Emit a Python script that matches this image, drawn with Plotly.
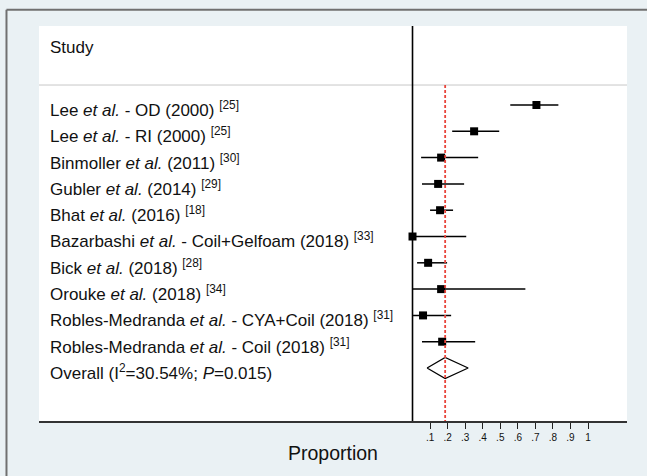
import plotly.graph_objects as go

# ---- data ----
studies = [
    "Lee <i>et al.</i> - OD (2000) <sup>[25]</sup>",
    "Lee <i>et al.</i> - RI (2000) <sup>[25]</sup>",
    "Binmoller <i>et al.</i> (2011) <sup>[30]</sup>",
    "Gubler <i>et al.</i> (2014) <sup>[29]</sup>",
    "Bhat <i>et al.</i> (2016) <sup>[18]</sup>",
    "Bazarbashi <i>et al.</i> - Coil+Gelfoam (2018) <sup>[33]</sup>",
    "Bick <i>et al.</i> (2018) <sup>[28]</sup>",
    "Orouke <i>et al.</i> (2018) <sup>[34]</sup>",
    "Robles-Medranda <i>et al.</i> - CYA+Coil (2018) <sup>[31]</sup>",
    "Robles-Medranda <i>et al.</i> - Coil (2018) <sup>[31]</sup>",
]
est = [0.706, 0.351, 0.163, 0.146, 0.157, 0.000, 0.089, 0.163, 0.060, 0.169]
lo = [0.557, 0.226, 0.049, 0.054, 0.100, 0.000, 0.026, 0.000, 0.003, 0.054]
hi = [0.831, 0.494, 0.374, 0.294, 0.231, 0.306, 0.197, 0.643, 0.220, 0.357]

overall_label = "Overall (I<sup>2</sup>=30.54%; <i>P</i>=0.015)"
overall_est = 0.186
overall_lo = 0.083
overall_hi = 0.317

tick_vals = [0.1, 0.2, 0.3, 0.4, 0.5, 0.6, 0.7, 0.8, 0.9, 1.0]
tick_text = [".1", ".2", ".3", ".4", ".5", ".6", ".7", ".8", ".9", "1"]

FONT = "Liberation Sans, Arial, sans-serif"
rows = list(range(len(studies)))
overall_row = len(studies)

fig = go.Figure()

# CI lines
cx, cy = [], []
for r, a, b in zip(rows, lo, hi):
    cx += [a, b, None]
    cy += [r, r, None]
fig.add_trace(go.Scatter(x=cx, y=cy, mode="lines",
                         line=dict(color="black", width=1.5),
                         hoverinfo="skip", showlegend=False))
# point estimates
fig.add_trace(go.Scatter(x=est, y=rows, mode="markers",
                         marker=dict(symbol="square", size=8, color="black"),
                         showlegend=False))
# overall diamond
h = 0.4
fig.add_trace(go.Scatter(
    x=[overall_lo, overall_est, overall_hi, overall_est, overall_lo],
    y=[overall_row, overall_row - h, overall_row, overall_row + h, overall_row],
    mode="lines", fill="toself", fillcolor="white",
    line=dict(color="black", width=1.3), showlegend=False, hoverinfo="skip"))

header_line_y = -0.76
shapes = [
    # header separator
    dict(type="line", xref="paper", yref="y", x0=0, x1=1,
         y0=header_line_y, y1=header_line_y,
         line=dict(color="#c8c8c8", width=1)),
    # null line at 0
    dict(type="line", xref="x", yref="paper", x0=0, x1=0, y0=0, y1=1,
         line=dict(color="black", width=1.6)),
    # overall dashed red line
    dict(type="line", xref="x", yref="y", x0=overall_est, x1=overall_est,
         y0=header_line_y, y1=12.02,
         line=dict(color="#e8453c", width=1.8, dash="3px,2px")),
    # outer frame (left and top)
    dict(type="line", xref="paper", yref="paper", x0=-0.0553, x1=-0.0553,
         y0=-0.14, y1=1.041, line=dict(color="#707070", width=2)),
    dict(type="line", xref="paper", yref="paper", x0=-0.0553, x1=1.04,
         y0=1.041, y1=1.041, line=dict(color="#707070", width=2)),
]

annotations = [dict(text="Study", xref="paper", yref="y", x=0.0153, y=-2.17,
                    xanchor="left", yanchor="middle", showarrow=False,
                    font=dict(family=FONT, size=17, color="#111"))]
labels = studies + [overall_label]
for r, t in enumerate(labels):
    annotations.append(dict(text=t, xref="paper", yref="y", x=0.0153, y=r + 0.15,
                            xanchor="left", yanchor="middle", showarrow=False,
                            font=dict(family=FONT, size=17, color="#111")))
annotations.append(dict(text="Proportion", xref="paper", yref="paper",
                        x=0.5, y=-0.081, xanchor="center", yanchor="middle",
                        showarrow=False,
                        font=dict(family=FONT, size=19.5, color="#111")))

fig.update_layout(
    width=647, height=476,
    margin=dict(l=39, r=20, t=26, b=55),
    paper_bgcolor="#eaf1f4", plot_bgcolor="white",
    shapes=shapes, annotations=annotations, showlegend=False,
    xaxis=dict(range=[-2.128, 1.222], tickvals=tick_vals, ticktext=tick_text,
               ticks="outside", ticklen=6, tickwidth=1.2, tickcolor="#222",
               showline=True, linecolor="#333", linewidth=1.5,
               showgrid=False, zeroline=False, fixedrange=True,
               tickfont=dict(family=FONT, size=10, color="#111")),
    yaxis=dict(range=[12.015, -3.004], visible=False, showgrid=False,
               zeroline=False, fixedrange=True),
)

fig.write_html("out.html")
